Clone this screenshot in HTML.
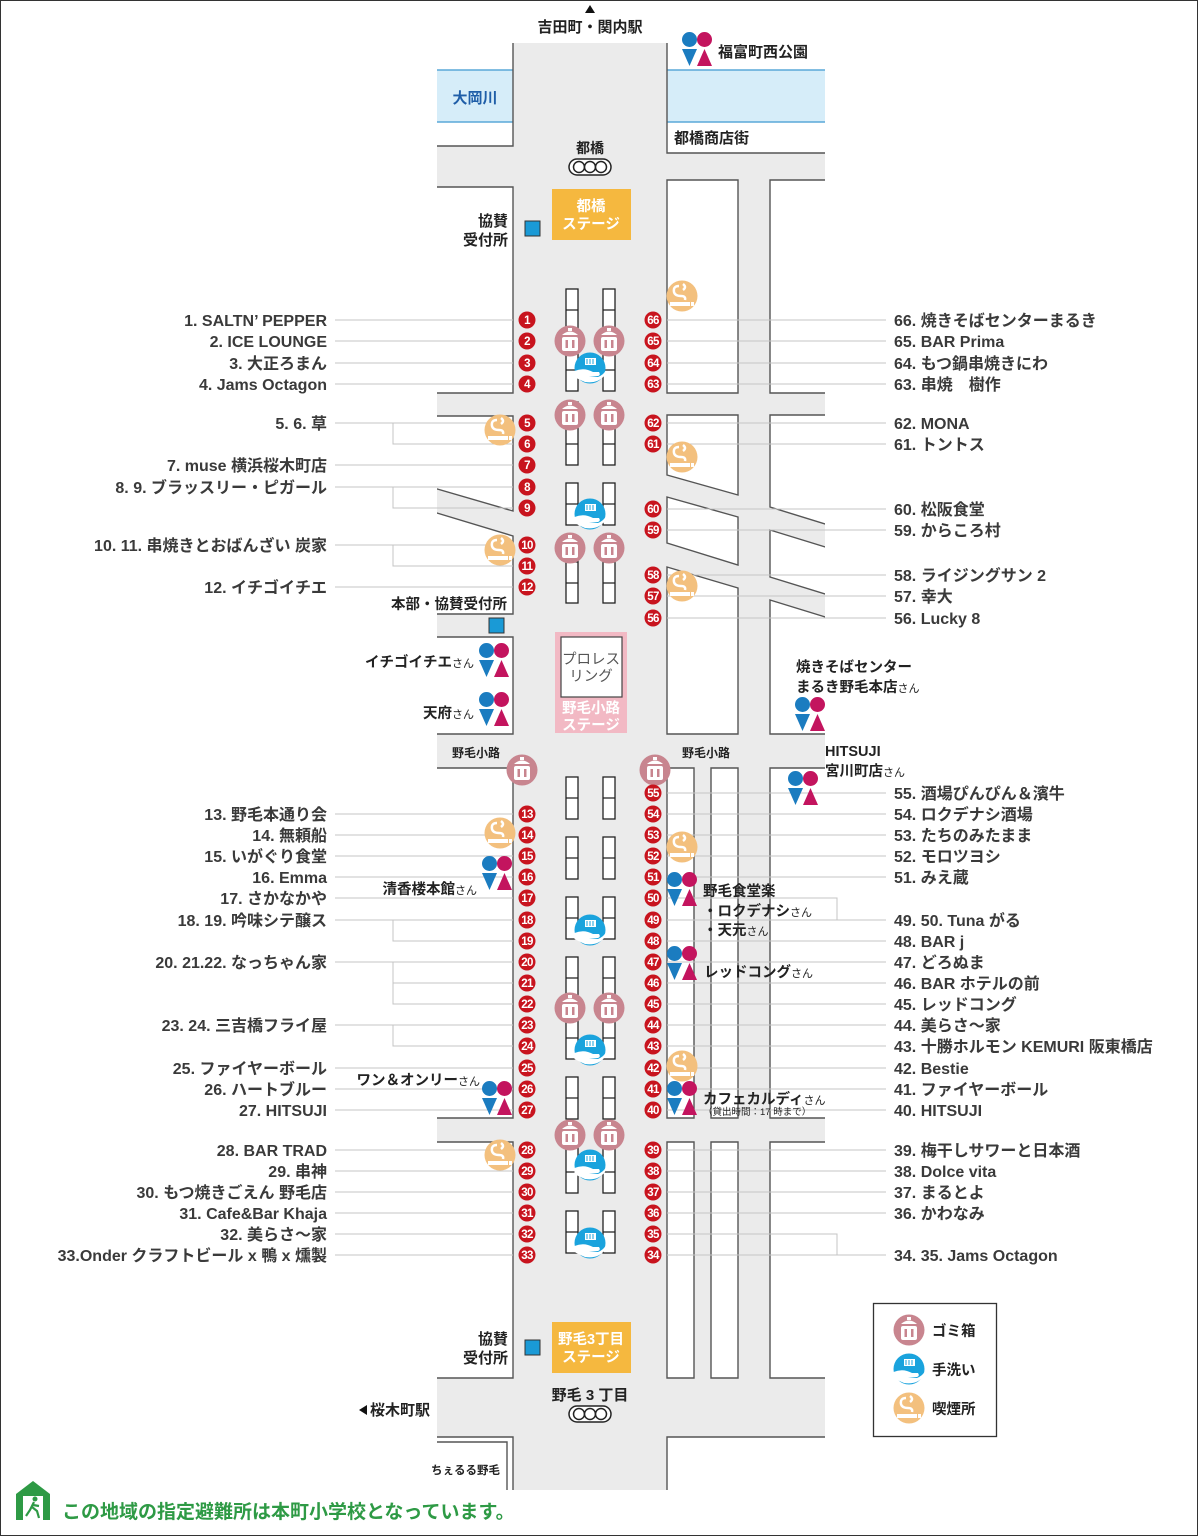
<!DOCTYPE html>
<html><head><meta charset="utf-8"><style>
html,body{margin:0;padding:0;background:#fff}
svg{display:block}
text{font-family:"Liberation Sans","Noto Sans CJK JP",sans-serif}
.l{font-size:16px;font-weight:bold;fill:#3a3a3a;text-anchor:end}
.r{font-size:16px;font-weight:bold;fill:#3a3a3a}
.n{font-size:11.5px;font-weight:bold;fill:#fff;text-anchor:middle;letter-spacing:-0.6px}
.b{fill:#fff;stroke:#555;stroke-width:1.4}
.ld{stroke:#c4c4c4;stroke-width:1;fill:none}
.t{font-weight:bold;fill:#222}
.s{fill:#fff;stroke:#222;stroke-width:1.3}
</style></head><body>
<svg width="1198" height="1536" viewBox="0 0 1198 1536" xmlns="http://www.w3.org/2000/svg">
<defs>
<symbol id="tr" viewBox="-16 -16 32 32"><circle r="15.5" fill="#c8858f"/><path d="M-8,-6 Q0,-13 8,-6 Z" fill="#fff"/><rect x="-2" y="-13" width="4" height="3" fill="#fff"/><rect x="-8" y="-4" width="16" height="14" rx="2" fill="#fff"/><rect x="-4.5" y="-1" width="2.5" height="8" fill="#c8858f"/><rect x="2" y="-1" width="2.5" height="8" fill="#c8858f"/></symbol>
<symbol id="wa" viewBox="-16 -16 32 32"><circle r="15.5" fill="#1aa3dd"/><rect x="-5" y="-10" width="11" height="7" fill="#fff"/><path d="M-3,-9v5M0,-9v5M3,-9v5" stroke="#1aa3dd" stroke-width="1"/><path d="M-15.5,3 Q-6,-1 3,4 L9,4 Q11,7 8,8 L-1,8 L8,9 Q13,7 15.5,3 L15,7 Q8,16 -5,14 Q-12,11 -15.5,9 Z" fill="#fff"/></symbol>
<symbol id="sm" viewBox="-16 -16 32 32"><circle r="15.5" fill="#f3c07e"/><path d="M-3,-10 Q-9,-10 -8,-4 Q-7,0 -1,0 Q4,0 3,4 M1,-12 Q5,-9 1,-6" stroke="#fff" stroke-width="2.5" fill="none"/><rect x="-12" y="6" width="20" height="4" fill="#fff"/><rect x="9" y="6" width="3" height="4" fill="#fff"/></symbol>
<symbol id="wc" viewBox="0 0 30 34"><circle cx="7.5" cy="7.5" r="7.5" fill="#1b7cc0"/><path d="M0,17 L15,17 L7.5,34Z" fill="#1b7cc0"/><circle cx="22.5" cy="7.5" r="7.5" fill="#c3145e"/><path d="M15,34 L30,34 L22.5,17Z" fill="#c3145e"/></symbol>
</defs>
<rect x="0.5" y="0.5" width="1197" height="1535" fill="#fff" stroke="#333"/>
<rect x="513" y="43" width="154" height="1447" fill="#ebebeb"/>
<rect x="437" y="146" width="76" height="41" fill="#ebebeb"/>
<rect x="667" y="153" width="158" height="27" fill="#ebebeb"/>
<rect x="437" y="180" width="388" height="1310" fill="#ebebeb"/>
<rect x="437" y="70" width="76" height="52" fill="#d6edf9"/>
<rect x="667" y="70" width="158" height="52" fill="#d6edf9"/>
<path d="M437,70H513M437,122H513M667,70H825M667,122H825" stroke="#5aa8d8" stroke-width="1.5"/>
<path d="M513,43V146H437M667,43V153H825" stroke="#555" stroke-width="1.4" fill="none"/>
<polygon class="b" points="427,187 513,187 513,393 427,393"/>
<polygon class="b" points="427,416 513,416 513,511 427,486"/>
<polygon class="b" points="427,510 513,536 513,614 427,614"/>
<polygon class="b" points="427,637 513,637 513,734 427,734"/>
<polygon class="b" points="427,768 513,768 513,1118 427,1118"/>
<polygon class="b" points="427,1142 513,1142 513,1378 427,1378"/>
<polygon class="b" points="427,1437 513,1437 513,1500 427,1500"/>
<polyline class="b" points="427,1442 507,1442 507,1500"/>
<polygon class="b" points="667,180 738,180 738,393 667,393"/>
<polygon class="b" points="770,180 835,180 835,393 770,393"/>
<polygon class="b" points="667,415 738,415 738,495 667,475"/>
<polygon class="b" points="667,497 738,517 738,565 667,543"/>
<polygon class="b" points="667,567 738,588 738,734 667,734"/>
<polygon class="b" points="770,415 835,415 835,527 770,507"/>
<polygon class="b" points="770,530 835,550 835,597 770,577"/>
<polygon class="b" points="770,600 835,620 835,734 770,734"/>
<polygon class="b" points="667,768 694,768 694,1118 667,1118"/>
<polygon class="b" points="711,768 738,768 738,1118 711,1118"/>
<polygon class="b" points="770,768 835,768 835,1118 770,1118"/>
<polygon class="b" points="667,1142 694,1142 694,1378 667,1378"/>
<polygon class="b" points="711,1142 738,1142 738,1378 711,1378"/>
<polygon class="b" points="770,1142 835,1142 835,1378 770,1378"/>
<polygon class="b" points="667,1437 835,1437 835,1500 667,1500"/>
<rect x="400" y="140" width="37" height="1360" fill="#fff"/>
<rect x="825" y="140" width="20" height="1360" fill="#fff"/>
<rect x="420" y="1490" width="430" height="30" fill="#fff"/>
<g class="ld">
<path d="M335,320H513M335,341H513M335,363H513M335,384H513"/>
<path d="M335,423H513M393,423V444H513M335,465H513M335,487H513M393,487V508H513M335,545H513M393,545V566H513M335,587H513"/>
<path d="M335,814H513M335,835H513M335,856H513M335,877H513M335,898H513M335,920H513M393,920V941H513M335,962H513M393,962V1004H513M393,983H513M393,1004H513M335,1025H513M393,1025V1046H513M335,1068H513M335,1089H513M335,1110H513"/>
<path d="M335,1150H513M335,1171H513M335,1192H513M335,1213H513M335,1234H513M335,1255H513"/>
<path d="M667,320H886M667,341H886M667,363H886M667,384H886M667,423H886M667,444H886M667,509H886M667,530H886M667,575H886M667,596H886M667,618H886"/>
<path d="M667,793H886M667,814H886M667,835H886M667,856H886M667,877H886M667,898H837V920M667,920H886M667,941H886M667,962H886M667,983H886M667,1004H886M667,1025H886M667,1046H886M667,1068H886M667,1089H886M667,1110H886"/>
<path d="M667,1150H886M667,1171H886M667,1192H886M667,1213H886M667,1234H837V1255M667,1255H886"/>
</g>
<g class="s">
<rect x="566" y="289" width="12" height="102"/><rect x="603" y="289" width="12" height="102"/>
<path d="M566,310H578M566,330H578M566,350H578M566,370H578M603,310H615M603,330H615M603,350H615M603,370H615"/>
<rect x="566" y="402" width="12" height="63"/><rect x="603" y="402" width="12" height="63"/>
<path d="M566,423H578M566,444H578M603,423H615M603,444H615"/>
<rect x="566" y="483" width="12" height="42"/><rect x="603" y="483" width="12" height="42"/>
<path d="M566,504H578M603,504H615"/>
<rect x="566" y="541" width="12" height="62"/><rect x="603" y="541" width="12" height="62"/>
<path d="M566,562H578M566,583H578M603,562H615M603,583H615"/>
<rect x="566" y="777" width="12" height="42"/><rect x="603" y="777" width="12" height="42"/>
<path d="M566,798H578M603,798H615"/>
<rect x="566" y="837" width="12" height="42"/><rect x="603" y="837" width="12" height="42"/>
<path d="M566,858H578M603,858H615"/>
<rect x="566" y="897" width="12" height="42"/><rect x="603" y="897" width="12" height="42"/>
<path d="M566,918H578M603,918H615"/>
<rect x="566" y="957" width="12" height="102"/><rect x="603" y="957" width="12" height="102"/>
<path d="M566,978H578M566,998H578M566,1018H578M566,1038H578M603,978H615M603,998H615M603,1018H615M603,1038H615"/>
<rect x="566" y="1077" width="12" height="42"/><rect x="603" y="1077" width="12" height="42"/>
<path d="M566,1098H578M603,1098H615"/>
<rect x="566" y="1142" width="12" height="51"/><rect x="603" y="1142" width="12" height="51"/>
<path d="M566,1172H578M603,1172H615"/>
<rect x="566" y="1211" width="12" height="42"/><rect x="603" y="1211" width="12" height="42"/>
<path d="M566,1232H578M603,1232H615"/>
</g>
<use href="#tr" x="554" y="325" width="32" height="32"/><use href="#tr" x="593" y="325" width="32" height="32"/>
<use href="#tr" x="554" y="399" width="32" height="32"/><use href="#tr" x="593" y="399" width="32" height="32"/>
<use href="#tr" x="554" y="532" width="32" height="32"/><use href="#tr" x="593" y="532" width="32" height="32"/>
<use href="#tr" x="506" y="754" width="32" height="32"/><use href="#tr" x="639" y="754" width="32" height="32"/>
<use href="#tr" x="554" y="992" width="32" height="32"/><use href="#tr" x="593" y="992" width="32" height="32"/>
<use href="#tr" x="554" y="1119" width="32" height="32"/><use href="#tr" x="593" y="1119" width="32" height="32"/>
<use href="#wa" x="574" y="352" width="32" height="32"/>
<use href="#wa" x="574" y="498" width="32" height="32"/>
<use href="#wa" x="574" y="914" width="32" height="32"/>
<use href="#wa" x="574" y="1034" width="32" height="32"/>
<use href="#wa" x="574" y="1149" width="32" height="32"/>
<use href="#wa" x="574" y="1227" width="32" height="32"/>
<use href="#sm" x="666" y="280" width="32" height="32"/>
<use href="#sm" x="484" y="414" width="32" height="32"/>
<use href="#sm" x="666" y="441" width="32" height="32"/>
<use href="#sm" x="484" y="534" width="32" height="32"/>
<use href="#sm" x="666" y="570" width="32" height="32"/>
<use href="#sm" x="484" y="817" width="32" height="32"/>
<use href="#sm" x="666" y="831" width="32" height="32"/>
<use href="#sm" x="666" y="1050" width="32" height="32"/>
<use href="#sm" x="484" y="1139" width="32" height="32"/>
<use href="#wc" x="682" y="32" width="30" height="34"/>
<use href="#wc" x="479" y="643" width="30" height="34"/>
<use href="#wc" x="479" y="692" width="30" height="34"/>
<use href="#wc" x="795" y="697" width="30" height="34"/>
<use href="#wc" x="788" y="771" width="30" height="34"/>
<use href="#wc" x="482" y="856" width="30" height="34"/>
<use href="#wc" x="667" y="872" width="30" height="34"/>
<use href="#wc" x="667" y="946" width="30" height="34"/>
<use href="#wc" x="482" y="1081" width="30" height="34"/>
<use href="#wc" x="667" y="1081" width="30" height="34"/>
<rect x="552" y="189" width="79" height="51" fill="#f5b83f"/>
<text x="591" y="211" text-anchor="middle" font-size="14.5" font-weight="bold" fill="#fff">都橋</text>
<text x="591" y="229" text-anchor="middle" font-size="14.5" font-weight="bold" fill="#fff">ステージ</text>
<rect x="555" y="632" width="72" height="101" fill="#f2b9c4"/>
<rect x="561" y="637" width="61" height="60" fill="#fff" stroke="#444" stroke-width="1.2"/>
<text x="591" y="664" text-anchor="middle" font-size="14.5" fill="#555">プロレス</text>
<text x="591" y="681" text-anchor="middle" font-size="14.5" fill="#555">リング</text>
<text x="591" y="713" text-anchor="middle" font-size="14.5" font-weight="bold" fill="#fff">野毛小路</text>
<text x="591" y="730" text-anchor="middle" font-size="14.5" font-weight="bold" fill="#fff">ステージ</text>
<rect x="552" y="1322" width="79" height="51" fill="#f5b83f"/>
<text x="591" y="1344" text-anchor="middle" font-size="14.5" font-weight="bold" fill="#fff">野毛3丁目</text>
<text x="591" y="1362" text-anchor="middle" font-size="14.5" font-weight="bold" fill="#fff">ステージ</text>
<rect x="525" y="221" width="15" height="15" fill="#1a9ad6" stroke="#333"/>
<rect x="489" y="618" width="15" height="15" fill="#1a9ad6" stroke="#333"/>
<rect x="525" y="1340" width="15" height="15" fill="#1a9ad6" stroke="#333"/>
<g fill="#fff" stroke="#222" stroke-width="1.5">
<rect x="569" y="159" width="42" height="16" rx="8"/><circle cx="579" cy="167" r="5.5"/><circle cx="590" cy="167" r="5.5"/><circle cx="601" cy="167" r="5.5"/>
<rect x="569" y="1406" width="42" height="16" rx="8"/><circle cx="579" cy="1414" r="5.5"/><circle cx="590" cy="1414" r="5.5"/><circle cx="601" cy="1414" r="5.5"/>
</g>
<path d="M585,13L590,5L595,13Z" fill="#111"/>
<text x="590" y="32" text-anchor="middle" font-size="15" class="t">吉田町・関内駅</text>
<text x="718" y="57" font-size="15" class="t">福富町西公園</text>
<text x="475" y="103" text-anchor="middle" font-size="15" font-weight="bold" fill="#1f5ea8">大岡川</text>
<text x="674" y="143" font-size="15" class="t">都橋商店街</text>
<text x="590" y="153" text-anchor="middle" font-size="14" class="t">都橋</text>
<text x="508" y="226" text-anchor="end" font-size="15" class="t">協賛</text>
<text x="508" y="245" text-anchor="end" font-size="15" class="t">受付所</text>
<text x="507" y="609" text-anchor="end" font-size="14.5" class="t">本部・協賛受付所</text>
<text x="474" y="667" text-anchor="end" font-size="14.5" class="t">イチゴイチエ<tspan font-size="11" font-weight="normal">さん</tspan></text>
<text x="474" y="718" text-anchor="end" font-size="14.5" class="t">天府<tspan font-size="11" font-weight="normal">さん</tspan></text>
<text x="796" y="672" font-size="14.5" class="t">焼きそばセンター</text>
<text x="796" y="692" font-size="14.5" class="t">まるき野毛本店<tspan font-size="11" font-weight="normal">さん</tspan></text>
<text x="825" y="756" font-size="14.5" class="t">HITSUJI</text>
<text x="825" y="776" font-size="14.5" class="t">宮川町店<tspan font-size="11" font-weight="normal">さん</tspan></text>
<text x="476" y="757" text-anchor="middle" font-size="12" class="t">野毛小路</text>
<text x="706" y="757" text-anchor="middle" font-size="12" class="t">野毛小路</text>
<text x="477" y="894" text-anchor="end" font-size="14.5" class="t">清香楼本館<tspan font-size="11" font-weight="normal">さん</tspan></text>
<text x="703" y="896" font-size="14.5" class="t">野毛食堂楽</text>
<text x="703" y="916" font-size="14.5" class="t">・ロクデナシ<tspan font-size="11" font-weight="normal">さん</tspan></text>
<text x="703" y="935" font-size="14.5" class="t">・天元<tspan font-size="11" font-weight="normal">さん</tspan></text>
<text x="704" y="977" font-size="14.5" class="t">レッドコング<tspan font-size="11" font-weight="normal">さん</tspan></text>
<text x="480" y="1085" text-anchor="end" font-size="14.5" class="t">ワン＆オンリー<tspan font-size="11" font-weight="normal">さん</tspan></text>
<text x="703" y="1104" font-size="14.5" class="t">カフェカルディ<tspan font-size="11" font-weight="normal">さん</tspan></text>
<text x="703" y="1115" font-size="9.5" fill="#222">（貸出時間：17 時まで）</text>
<text x="590" y="1400" text-anchor="middle" font-size="15" class="t">野毛 3 丁目</text>
<text x="508" y="1344" text-anchor="end" font-size="15" class="t">協賛</text>
<text x="508" y="1363" text-anchor="end" font-size="15" class="t">受付所</text>
<path d="M359,1410L367,1405V1415Z" fill="#111"/>
<text x="370" y="1415" font-size="15" class="t">桜木町駅</text>
<text x="500" y="1474" text-anchor="end" font-size="11.5" class="t">ちぇるる野毛</text>
<rect x="873.5" y="1303.5" width="123" height="133" fill="#fff" stroke="#333" stroke-width="1.3"/>
<use href="#tr" x="893" y="1314" width="32" height="32"/>
<use href="#wa" x="893" y="1353" width="32" height="32"/>
<use href="#sm" x="893" y="1392" width="32" height="32"/>
<text x="932" y="1336" font-size="14.5" class="t">ゴミ箱</text>
<text x="932" y="1375" font-size="14.5" class="t">手洗い</text>
<text x="932" y="1414" font-size="14.5" class="t">喫煙所</text>
<path d="M16,1494 L33,1481 L50,1494 V1520 H16 Z" fill="#2e9a45"/>
<rect x="23" y="1496" width="20" height="24" fill="#fff"/>
<circle cx="35" cy="1499" r="2.5" fill="#2e9a45"/>
<path d="M34,1502 L30,1510 L26,1516 M32,1507 L37,1511 L39,1518 M33,1505 L39,1506" stroke="#2e9a45" stroke-width="2.2" fill="none"/>
<text x="62" y="1518" font-size="19" font-weight="bold" fill="#2e9a45">この地域の指定避難所は本町小学校となっています。</text>
<text class="l" x="327" y="326">1. SALTN’ PEPPER</text>
<text class="l" x="327" y="347">2. ICE LOUNGE</text>
<text class="l" x="327" y="369">3. 大正ろまん</text>
<text class="l" x="327" y="390">4. Jams Octagon</text>
<text class="l" x="327" y="429">5. 6. 草</text>
<text class="l" x="327" y="471">7. muse 横浜桜木町店</text>
<text class="l" x="327" y="493">8. 9. ブラッスリー・ピガール</text>
<text class="l" x="327" y="551">10. 11. 串焼きとおばんざい 炭家</text>
<text class="l" x="327" y="593">12. イチゴイチエ</text>
<text class="l" x="327" y="820">13. 野毛本通り会</text>
<text class="l" x="327" y="841">14. 無頼船</text>
<text class="l" x="327" y="862">15. いがぐり食堂</text>
<text class="l" x="327" y="883">16. Emma</text>
<text class="l" x="327" y="904">17. さかなかや</text>
<text class="l" x="327" y="926">18. 19. 吟味シテ醸ス</text>
<text class="l" x="327" y="968">20. 21.22. なっちゃん家</text>
<text class="l" x="327" y="1031">23. 24. 三吉橋フライ屋</text>
<text class="l" x="327" y="1074">25. ファイヤーボール</text>
<text class="l" x="327" y="1095">26. ハートブルー</text>
<text class="l" x="327" y="1116">27. HITSUJI</text>
<text class="l" x="327" y="1156">28. BAR TRAD</text>
<text class="l" x="327" y="1177">29. 串神</text>
<text class="l" x="327" y="1198">30. もつ焼きごえん 野毛店</text>
<text class="l" x="327" y="1219">31. Cafe&amp;Bar Khaja</text>
<text class="l" x="327" y="1240">32. 美らさ～家</text>
<text class="l" x="327" y="1261">33.Onder クラフトビール x 鴨 x 燻製</text>
<text class="r" x="894" y="326">66. 焼きそばセンターまるき</text>
<text class="r" x="894" y="347">65. BAR Prima</text>
<text class="r" x="894" y="369">64. もつ鍋串焼きにわ</text>
<text class="r" x="894" y="390">63. 串焼　樹作</text>
<text class="r" x="894" y="429">62. MONA</text>
<text class="r" x="894" y="450">61. トントス</text>
<text class="r" x="894" y="515">60. 松阪食堂</text>
<text class="r" x="894" y="536">59. からころ村</text>
<text class="r" x="894" y="581">58. ライジングサン 2</text>
<text class="r" x="894" y="602">57. 幸大</text>
<text class="r" x="894" y="624">56. Lucky 8</text>
<text class="r" x="894" y="799">55. 酒場ぴんぴん＆濱牛</text>
<text class="r" x="894" y="820">54. ロクデナシ酒場</text>
<text class="r" x="894" y="841">53. たちのみたまま</text>
<text class="r" x="894" y="862">52. モロツヨシ</text>
<text class="r" x="894" y="883">51. みえ蔵</text>
<text class="r" x="894" y="926">49. 50. Tuna がる</text>
<text class="r" x="894" y="947">48. BAR j</text>
<text class="r" x="894" y="968">47. どろぬま</text>
<text class="r" x="894" y="989">46. BAR ホテルの前</text>
<text class="r" x="894" y="1010">45. レッドコング</text>
<text class="r" x="894" y="1031">44. 美らさ～家</text>
<text class="r" x="894" y="1052">43. 十勝ホルモン KEMURI 阪東橋店</text>
<text class="r" x="894" y="1074">42. Bestie</text>
<text class="r" x="894" y="1095">41. ファイヤーボール</text>
<text class="r" x="894" y="1116">40. HITSUJI</text>
<text class="r" x="894" y="1156">39. 梅干しサワーと日本酒</text>
<text class="r" x="894" y="1177">38. Dolce vita</text>
<text class="r" x="894" y="1198">37. まるとよ</text>
<text class="r" x="894" y="1219">36. かわなみ</text>
<text class="r" x="894" y="1261">34. 35. Jams Octagon</text>
<g fill="#c8141e">
<circle cx="527" cy="320" r="8.5"/><circle cx="527" cy="341" r="8.5"/><circle cx="527" cy="363" r="8.5"/><circle cx="527" cy="384" r="8.5"/>
<circle cx="527" cy="423" r="8.5"/><circle cx="527" cy="444" r="8.5"/><circle cx="527" cy="465" r="8.5"/><circle cx="527" cy="487" r="8.5"/><circle cx="527" cy="508" r="8.5"/>
<circle cx="527" cy="545" r="8.5"/><circle cx="527" cy="566" r="8.5"/><circle cx="527" cy="587" r="8.5"/>
<circle cx="527" cy="814" r="8.5"/><circle cx="527" cy="835" r="8.5"/><circle cx="527" cy="856" r="8.5"/><circle cx="527" cy="877" r="8.5"/><circle cx="527" cy="898" r="8.5"/><circle cx="527" cy="920" r="8.5"/><circle cx="527" cy="941" r="8.5"/><circle cx="527" cy="962" r="8.5"/><circle cx="527" cy="983" r="8.5"/><circle cx="527" cy="1004" r="8.5"/><circle cx="527" cy="1025" r="8.5"/><circle cx="527" cy="1046" r="8.5"/><circle cx="527" cy="1068" r="8.5"/><circle cx="527" cy="1089" r="8.5"/><circle cx="527" cy="1110" r="8.5"/>
<circle cx="527" cy="1150" r="8.5"/><circle cx="527" cy="1171" r="8.5"/><circle cx="527" cy="1192" r="8.5"/><circle cx="527" cy="1213" r="8.5"/><circle cx="527" cy="1234" r="8.5"/><circle cx="527" cy="1255" r="8.5"/>
<circle cx="653" cy="320" r="8.5"/><circle cx="653" cy="341" r="8.5"/><circle cx="653" cy="363" r="8.5"/><circle cx="653" cy="384" r="8.5"/>
<circle cx="653" cy="423" r="8.5"/><circle cx="653" cy="444" r="8.5"/><circle cx="653" cy="509" r="8.5"/><circle cx="653" cy="530" r="8.5"/>
<circle cx="653" cy="575" r="8.5"/><circle cx="653" cy="596" r="8.5"/><circle cx="653" cy="618" r="8.5"/>
<circle cx="653" cy="793" r="8.5"/><circle cx="653" cy="814" r="8.5"/><circle cx="653" cy="835" r="8.5"/><circle cx="653" cy="856" r="8.5"/><circle cx="653" cy="877" r="8.5"/><circle cx="653" cy="898" r="8.5"/><circle cx="653" cy="920" r="8.5"/><circle cx="653" cy="941" r="8.5"/><circle cx="653" cy="962" r="8.5"/><circle cx="653" cy="983" r="8.5"/><circle cx="653" cy="1004" r="8.5"/><circle cx="653" cy="1025" r="8.5"/><circle cx="653" cy="1046" r="8.5"/><circle cx="653" cy="1068" r="8.5"/><circle cx="653" cy="1089" r="8.5"/><circle cx="653" cy="1110" r="8.5"/>
<circle cx="653" cy="1150" r="8.5"/><circle cx="653" cy="1171" r="8.5"/><circle cx="653" cy="1192" r="8.5"/><circle cx="653" cy="1213" r="8.5"/><circle cx="653" cy="1234" r="8.5"/><circle cx="653" cy="1255" r="8.5"/>
</g>
<g class="n">
<text x="527" y="324">1</text><text x="527" y="345">2</text><text x="527" y="367">3</text><text x="527" y="388">4</text>
<text x="527" y="427">5</text><text x="527" y="448">6</text><text x="527" y="469">7</text><text x="527" y="491">8</text><text x="527" y="512">9</text>
<text x="527" y="549">10</text><text x="527" y="570">11</text><text x="527" y="591">12</text>
<text x="527" y="818">13</text><text x="527" y="839">14</text><text x="527" y="860">15</text><text x="527" y="881">16</text><text x="527" y="902">17</text><text x="527" y="924">18</text><text x="527" y="945">19</text><text x="527" y="966">20</text><text x="527" y="987">21</text><text x="527" y="1008">22</text><text x="527" y="1029">23</text><text x="527" y="1050">24</text><text x="527" y="1072">25</text><text x="527" y="1093">26</text><text x="527" y="1114">27</text>
<text x="527" y="1154">28</text><text x="527" y="1175">29</text><text x="527" y="1196">30</text><text x="527" y="1217">31</text><text x="527" y="1238">32</text><text x="527" y="1259">33</text>
<text x="653" y="324">66</text><text x="653" y="345">65</text><text x="653" y="367">64</text><text x="653" y="388">63</text>
<text x="653" y="427">62</text><text x="653" y="448">61</text><text x="653" y="513">60</text><text x="653" y="534">59</text>
<text x="653" y="579">58</text><text x="653" y="600">57</text><text x="653" y="622">56</text>
<text x="653" y="797">55</text><text x="653" y="818">54</text><text x="653" y="839">53</text><text x="653" y="860">52</text><text x="653" y="881">51</text><text x="653" y="902">50</text><text x="653" y="924">49</text><text x="653" y="945">48</text><text x="653" y="966">47</text><text x="653" y="987">46</text><text x="653" y="1008">45</text><text x="653" y="1029">44</text><text x="653" y="1050">43</text><text x="653" y="1072">42</text><text x="653" y="1093">41</text><text x="653" y="1114">40</text>
<text x="653" y="1154">39</text><text x="653" y="1175">38</text><text x="653" y="1196">37</text><text x="653" y="1217">36</text><text x="653" y="1238">35</text><text x="653" y="1259">34</text>
</g>
</svg>
</body></html>
